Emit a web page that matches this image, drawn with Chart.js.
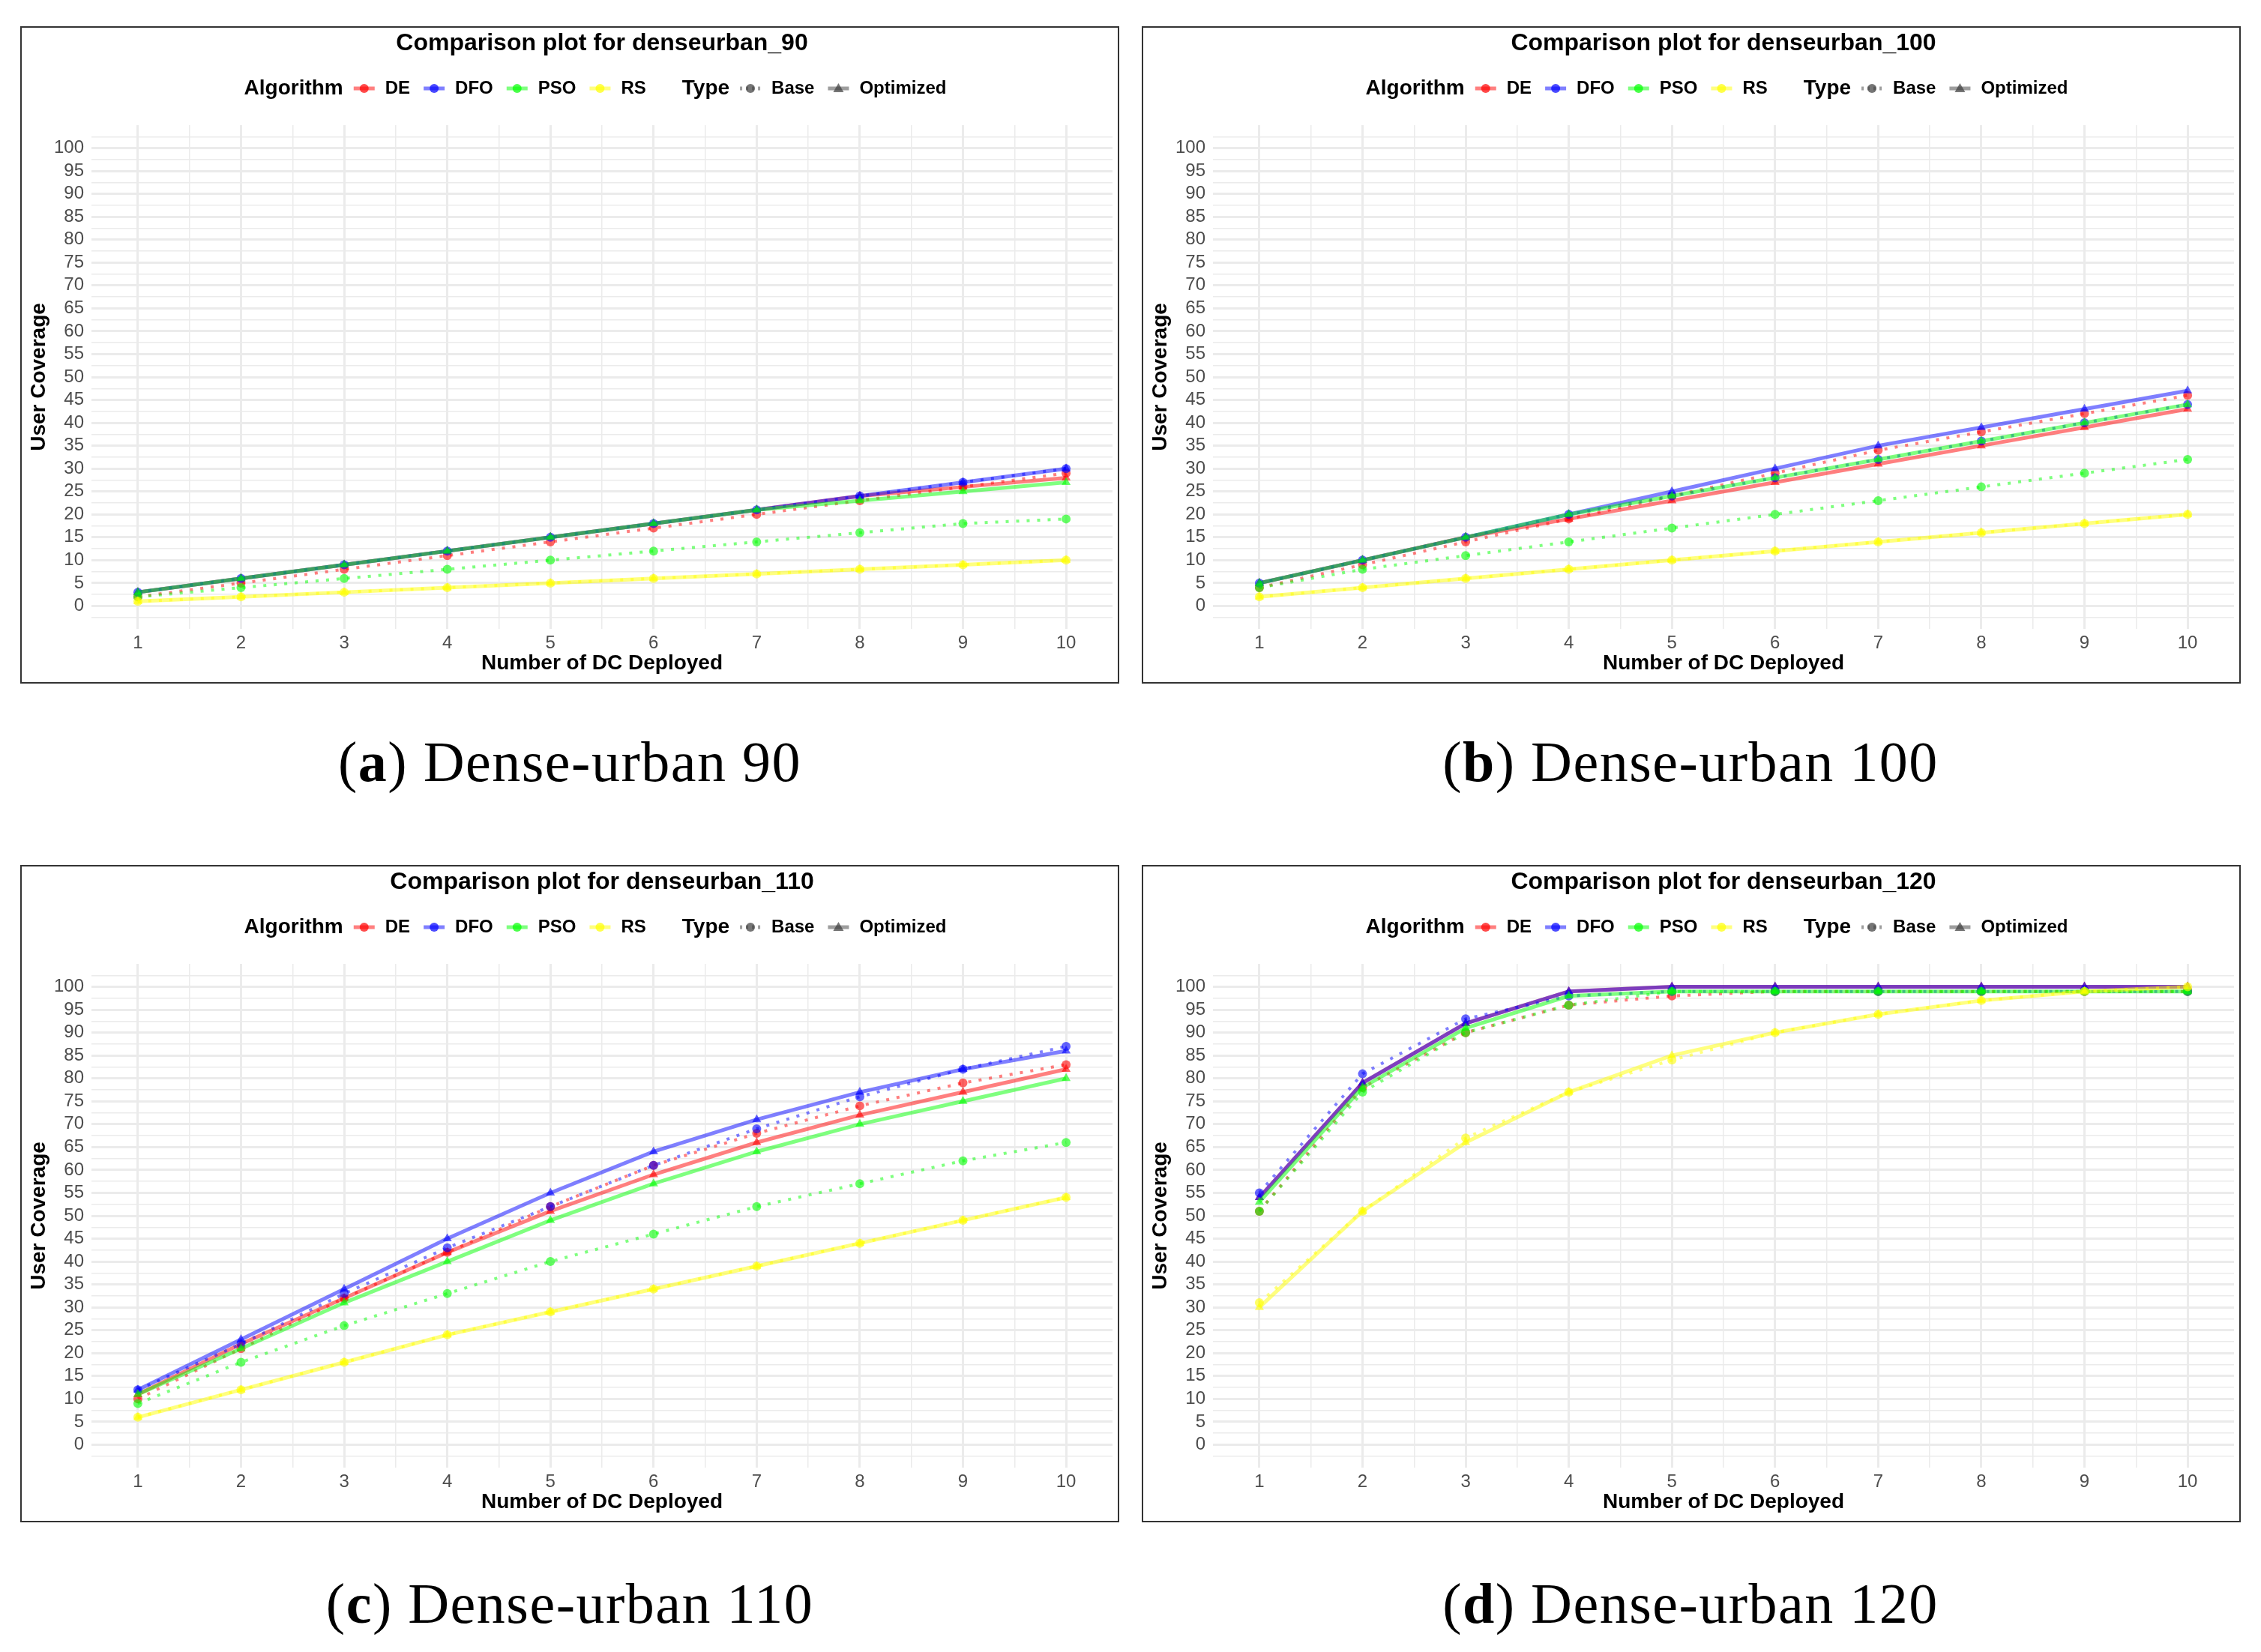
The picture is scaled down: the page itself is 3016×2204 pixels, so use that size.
<!DOCTYPE html>
<html>
<head>
<meta charset="utf-8">
<script src="https://cdn.jsdelivr.net/npm/chart.js"></script>
<style>
  html, body { margin: 0; padding: 0; background: #fff; }
  body { width: 3016px; height: 2204px; position: relative; overflow: hidden; }
  .panel { position: absolute; border: 2px solid #333; background: #fff; }
  .panel canvas { display: block; }
  .cap { position: absolute; width: 900px; text-align: center; font-family: "Liberation Serif", serif;
         font-size: 76px; letter-spacing: 1.5px; color: #000; line-height: 90px; }
</style>
</head>
<body>
<div class="panel" style="left:27px;top:35px"><canvas id="c90" width="1462" height="873"></canvas></div>
<div class="panel" style="left:1523px;top:35px"><canvas id="c100" width="1462" height="873"></canvas></div>
<div class="panel" style="left:27px;top:1154px"><canvas id="c110" width="1462" height="873"></canvas></div>
<div class="panel" style="left:1523px;top:1154px"><canvas id="c120" width="1462" height="873"></canvas></div>
<div class="cap" style="left:310px;top:971px">(<b>a</b>) Dense-urban 90</div>
<div class="cap" style="left:1805px;top:971px">(<b>b</b>) Dense-urban 100</div>
<div class="cap" style="left:310px;top:2094px">(<b>c</b>) Dense-urban 110</div>
<div class="cap" style="left:1805px;top:2094px">(<b>d</b>) Dense-urban 120</div>
<script>
// x axis: number of DCs deployed
var dcDeployed = [1, 2, 3, 4, 5, 6, 7, 8, 9, 10];
var yTickLabels = [0, 5, 10, 15, 20, 25, 30, 35, 40, 45, 50, 55, 60, 65, 70, 75, 80, 85, 90, 95, 100];

// denseurban_90
var de90Base  = [2, 5, 8, 11, 14, 17, 20, 23, 26, 29];
var de90Opt   = [3, 6, 9, 12, 15, 18, 21, 24, 26, 28];
var dfo90Base = [3, 6, 9, 12, 15, 18, 21, 24, 27, 30];
var dfo90Opt  = [3, 6, 9, 12, 15, 18, 21, 24, 27, 30];
var pso90Base = [2, 4, 6, 8, 10, 12, 14, 16, 18, 19];
var pso90Opt  = [3, 6, 9, 12, 15, 18, 21, 23, 25, 27];
var rs90Base  = [1, 2, 3, 4, 5, 6, 7, 8, 9, 10];
var rs90Opt   = [1, 2, 3, 4, 5, 6, 7, 8, 9, 10];

// denseurban_100
var de100Base  = [4, 9, 14, 19, 24, 29, 34, 38, 42, 46];
var de100Opt   = [5, 10, 15, 19, 23, 27, 31, 35, 39, 43];
var dfo100Base = [5, 10, 15, 20, 24, 28, 32, 36, 40, 44];
var dfo100Opt  = [5, 10, 15, 20, 25, 30, 35, 39, 43, 47];
var pso100Base = [4, 8, 11, 14, 17, 20, 23, 26, 29, 32];
var pso100Opt  = [5, 10, 15, 20, 24, 28, 32, 36, 40, 44];
var rs100Base  = [2, 4, 6, 8, 10, 12, 14, 16, 18, 20];
var rs100Opt   = [2, 4, 6, 8, 10, 12, 14, 16, 18, 20];

// denseurban_110
var de110Base  = [10, 21, 32, 42, 52, 61, 68, 74, 79, 83];
var de110Opt   = [11, 22, 32, 42, 51, 59, 66, 72, 77, 82];
var dfo110Base = [12, 22, 33, 43, 52, 61, 69, 76, 82, 87];
var dfo110Opt  = [12, 23, 34, 45, 55, 64, 71, 77, 82, 86];
var pso110Base = [9, 18, 26, 33, 40, 46, 52, 57, 62, 66];
var pso110Opt  = [11, 21, 31, 40, 49, 57, 64, 70, 75, 80];
var rs110Base  = [6, 12, 18, 24, 29, 34, 39, 44, 49, 54];
var rs110Opt   = [6, 12, 18, 24, 29, 34, 39, 44, 49, 54];

// denseurban_120
var de120Base  = [51, 78, 90, 96, 98, 99, 99, 99, 99, 99];
var de120Opt   = [54, 79, 92, 99, 100, 100, 100, 100, 100, 100];
var dfo120Base = [55, 81, 93, 98, 99, 99, 99, 99, 99, 99];
var dfo120Opt  = [54, 79, 92, 99, 100, 100, 100, 100, 100, 100];
var pso120Base = [51, 77, 90, 96, 99, 99, 99, 99, 99, 99];
var pso120Opt  = [53, 78, 91, 98, 99, 99, 99, 99, 99, 99];
var rs120Base  = [31, 51, 67, 77, 84, 90, 94, 97, 99, 100];
var rs120Opt   = [30, 51, 66, 77, 85, 90, 94, 97, 99, 100];

var algColors = { DE: "255,0,0", DFO: "0,0,255", PSO: "0,255,0", RS: "255,255,0" };

function pts(vals) {
  return vals.map(function (v, i) { return { x: dcDeployed[i], y: v }; });
}

function line(alg, type, vals) {
  var c = algColors[alg];
  var base = type === "Base";
  return {
    label: alg + " " + type,
    data: pts(vals),
    borderColor: "rgba(" + c + ",0.5)",
    borderWidth: base ? 4 : 5,
    borderDash: base ? [4, 10] : [],
    pointStyle: base ? "circle" : "triangle",
    pointRadius: base ? 6 : 7,
    pointBackgroundColor: "rgba(" + c + ",0.6)",
    pointBorderWidth: 0,
    tension: 0,
    fill: false
  };
}

function drawKey(ctx, x, y, color, shape, dashed) {
  ctx.save();
  ctx.strokeStyle = "rgba(" + color + ",0.5)";
  ctx.lineWidth = 5;
  ctx.setLineDash(dashed ? [3, 5] : []);
  ctx.beginPath();
  ctx.moveTo(x, y);
  ctx.lineTo(x + 28, y);
  ctx.stroke();
  ctx.fillStyle = "rgba(" + color + ",0.7)";
  ctx.beginPath();
  if (shape === "triangle") {
    ctx.moveTo(x + 14, y - 7);
    ctx.lineTo(x + 21, y + 5);
    ctx.lineTo(x + 7, y + 5);
    ctx.closePath();
  } else {
    ctx.arc(x + 14, y, 6, 0, Math.PI * 2);
  }
  ctx.fill();
  ctx.restore();
}

// title + ggplot style legend above the plot
var header = {
  id: "header",
  afterDraw: function (chart, args, opts) {
    var ctx = chart.ctx, area = chart.chartArea;
    var cx = (area.left + area.right) / 2;
    ctx.save();
    ctx.fillStyle = "#000";
    ctx.textBaseline = "middle";
    ctx.textAlign = "center";
    ctx.font = "bold 32px 'Liberation Sans'";
    ctx.fillText(opts.title, cx, 21);

    var items = [
      { head: "Algorithm" },
      { text: "DE", color: algColors.DE, shape: "circle" },
      { text: "DFO", color: algColors.DFO, shape: "circle" },
      { text: "PSO", color: algColors.PSO, shape: "circle" },
      { text: "RS", color: algColors.RS, shape: "circle" },
      { gap: 30 },
      { head: "Type" },
      { text: "Base", color: "60,60,60", shape: "circle", dashed: true },
      { text: "Optimized", color: "60,60,60", shape: "triangle" }
    ];
    var headFont = "bold 28px 'Liberation Sans'";
    var itemFont = "bold 24px 'Liberation Sans'";
    var total = 0;
    items.forEach(function (it) {
      if (it.gap) { it.w = it.gap; }
      else if (it.head) { ctx.font = headFont; it.w = ctx.measureText(it.head).width + 14; }
      else { ctx.font = itemFont; it.w = 28 + 14 + ctx.measureText(it.text).width + 18; }
      total += it.w;
    });
    var x = cx - total / 2, y = 81;
    ctx.textAlign = "left";
    items.forEach(function (it) {
      if (it.head) {
        ctx.font = headFont;
        ctx.fillText(it.head, x, y);
      } else if (it.text) {
        drawKey(ctx, x, y, it.color, it.shape, it.dashed);
        ctx.font = itemFont;
        ctx.fillStyle = "#000";
        ctx.fillText(it.text, x + 42, y);
      }
      x += it.w;
    });
    ctx.restore();
  }
};

function makeChart(id, title, sets) {
  var xTicks = [], yTicks = [];
  for (var v = 1; v <= 10; v += 0.5) xTicks.push({ value: v });
  for (var w = -2.5; w <= 102.5; w += 2.5) yTicks.push({ value: w });
  new Chart(document.getElementById(id), {
    type: "line",
    // chart.js paints the first dataset last, so reverse to keep RS/PSO on top like ggplot
    data: { datasets: sets.slice().reverse() },
    plugins: [header],
    options: {
      responsive: false,
      animation: false,
      devicePixelRatio: 1,
      layout: { padding: { top: 130, right: 3, left: 0, bottom: 0 } },
      plugins: {
        legend: { display: false },
        tooltip: { enabled: false },
        header: { title: title }
      },
      scales: {
        x: {
          type: "linear",
          min: 0.55,
          max: 10.45,
          afterBuildTicks: function (s) { s.ticks = xTicks.slice(); },
          afterFit: function (s) { s.height = 71; },
          border: { display: false },
          grid: {
            drawTicks: false,
            color: "#ebebeb",
            lineWidth: function (c) { return Number.isInteger(c.tick.value) ? 3 : 1.5; }
          },
          ticks: {
            autoSkip: false,
            maxRotation: 0,
            padding: 5,
            color: "#4d4d4d",
            font: { family: "'Liberation Sans'", size: 24 },
            callback: function (v) { return Number.isInteger(v) ? String(v) : ""; }
          },
          title: {
            display: true,
            text: "Number of DC Deployed",
            color: "#000",
            padding: { top: 0, bottom: 8 },
            font: { family: "'Liberation Sans'", size: 28, weight: "bold" }
          }
        },
        y: {
          type: "linear",
          min: -5,
          max: 105,
          afterBuildTicks: function (s) { s.ticks = yTicks.slice(); },
          afterFit: function (s) { s.width = 93; },
          border: { display: false },
          grid: {
            drawTicks: false,
            color: "#ebebeb",
            lineWidth: function (c) { return yTickLabels.indexOf(c.tick.value) >= 0 ? 3 : 1.5; }
          },
          ticks: {
            autoSkip: false,
            padding: 10,
            color: "#4d4d4d",
            font: { family: "'Liberation Sans'", size: 24 },
            callback: function (v) { return yTickLabels.indexOf(v) >= 0 ? String(v) : ""; }
          },
          title: {
            display: true,
            text: "User Coverage",
            color: "#000",
            padding: { top: 6, bottom: 0 },
            font: { family: "'Liberation Sans'", size: 28, weight: "bold" }
          }
        }
      }
    }
  });
}

makeChart("c90", "Comparison plot for denseurban_90", [
  line("DE", "Base", de90Base), line("DE", "Optimized", de90Opt),
  line("DFO", "Base", dfo90Base), line("DFO", "Optimized", dfo90Opt),
  line("PSO", "Base", pso90Base), line("PSO", "Optimized", pso90Opt),
  line("RS", "Base", rs90Base), line("RS", "Optimized", rs90Opt)
]);
makeChart("c100", "Comparison plot for denseurban_100", [
  line("DE", "Base", de100Base), line("DE", "Optimized", de100Opt),
  line("DFO", "Base", dfo100Base), line("DFO", "Optimized", dfo100Opt),
  line("PSO", "Base", pso100Base), line("PSO", "Optimized", pso100Opt),
  line("RS", "Base", rs100Base), line("RS", "Optimized", rs100Opt)
]);
makeChart("c110", "Comparison plot for denseurban_110", [
  line("DE", "Base", de110Base), line("DE", "Optimized", de110Opt),
  line("DFO", "Base", dfo110Base), line("DFO", "Optimized", dfo110Opt),
  line("PSO", "Base", pso110Base), line("PSO", "Optimized", pso110Opt),
  line("RS", "Base", rs110Base), line("RS", "Optimized", rs110Opt)
]);
makeChart("c120", "Comparison plot for denseurban_120", [
  line("DE", "Base", de120Base), line("DE", "Optimized", de120Opt),
  line("DFO", "Base", dfo120Base), line("DFO", "Optimized", dfo120Opt),
  line("PSO", "Base", pso120Base), line("PSO", "Optimized", pso120Opt),
  line("RS", "Base", rs120Base), line("RS", "Optimized", rs120Opt)
]);
</script>
</body>
</html>
